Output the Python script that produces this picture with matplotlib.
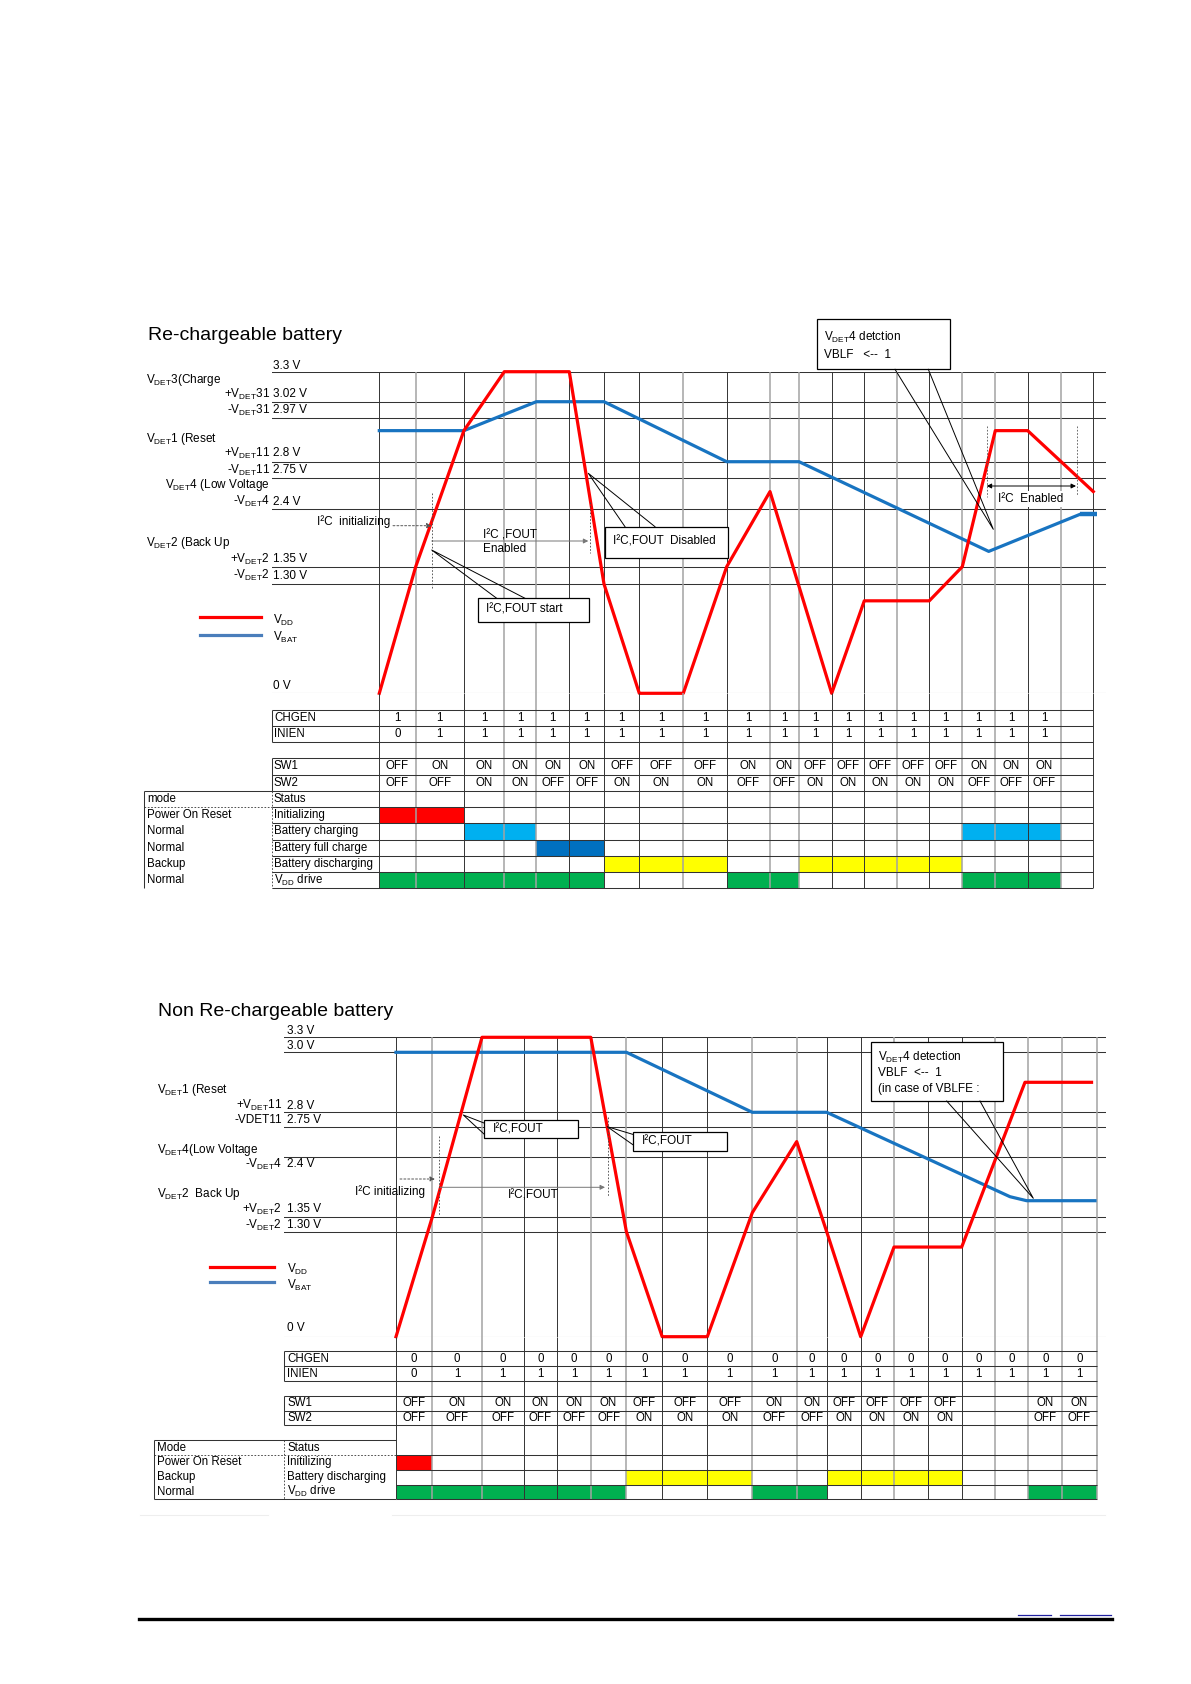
import numpy as np
import matplotlib
matplotlib.use("Agg")
import matplotlib.pyplot as plt
from matplotlib.lines import Line2D
from matplotlib.patches import Rectangle, FancyArrowPatch

plt.rcParams["font.family"] = ["Liberation Sans", "DejaVu Sans"]
plt.rcParams["mathtext.fontset"] = "custom"
plt.rcParams["mathtext.rm"] = "Liberation Sans"
plt.rcParams["mathtext.it"] = "Liberation Sans:italic"
plt.rcParams["mathtext.bf"] = "Liberation Sans:bold"

# ---------------- data: re-chargeable battery ----------------
# time is counted in table steps (column edges), voltages in volts
top_levels = [0, 1.30, 1.35, 2.4, 2.75, 2.8, 2.97, 3.02, 3.3]
top_vdd_step = [0, 1, 2, 3, 5, 6, 7, 8, 9, 10, 12, 13, 15, 16, 17, 18, 20]
top_vdd_v = [0, 1.35, 2.92, 3.3, 3.3, 1.30, 0, 0, 1.35, 2.6, 0, 1.1, 1.1, 1.35, 2.92, 2.92, 2.6]
top_vbat_step = [0, 2, 4, 6, 9, 11, 16.8, 19.6]
top_vbat_v = [2.92, 2.92, 3.02, 3.02, 2.8, 2.8, 1.63, 2.31]
top_vbat_end_step = [19.6, 20.1]
top_vbat_end_v = [2.31, 2.31]

top_chgen = ["1"] * 19
top_inien = ["0"] + ["1"] * 18
top_sw1 = ["OFF", "ON", "ON", "ON", "ON", "ON", "OFF", "OFF", "OFF", "ON",
           "ON", "OFF", "OFF", "OFF", "OFF", "OFF", "ON", "ON", "ON"]
top_sw2 = ["OFF", "OFF", "ON", "ON", "OFF", "OFF", "ON", "ON", "ON", "OFF",
           "OFF", "ON", "ON", "ON", "ON", "ON", "OFF", "OFF", "OFF"]
top_modes = ["Power On Reset", "Normal", "Normal", "Backup", "Normal"]
top_status = ["Initializing", "Battery charging", "Battery full charge",
              "Battery discharging", r"V$_{\rm DD}$ drive"]
top_init_cols = [0, 1]
top_charge_cols = [2, 3, 16, 17, 18]
top_full_cols = [4, 5]
top_dis_cols = [6, 7, 8, 11, 12, 13, 14, 15]
top_vdd_cols = [0, 1, 2, 3, 4, 5, 9, 10, 16, 17, 18]

# ---------------- data: non re-chargeable battery ----------------
bot_levels = [0, 1.30, 1.35, 2.4, 2.75, 2.8, 3.0, 3.3]
bot_vdd_step = [0, 1, 2, 5, 6, 7, 8, 9, 10, 11, 12, 13, 15, 16.9, 18.85]
bot_vdd_v = [0, 1.35, 3.3, 3.3, 1.30, 0, 0, 1.42, 2.58, 1.30, 0, 1.11, 1.11, 2.9, 2.9]
bot_vbat_step = [0, 6, 9, 11, 16.45, 16.95, 18.95]
bot_vbat_v = [3.0, 3.0, 2.8, 2.8, 1.70, 1.63, 1.63]

bot_chgen = ["0"] * 19
bot_inien = ["0"] + ["1"] * 18
bot_sw1 = ["OFF", "ON", "ON", "ON", "ON", "ON", "OFF", "OFF", "OFF", "ON",
           "ON", "OFF", "OFF", "OFF", "OFF", "", "", "ON", "ON"]
bot_sw2 = ["OFF", "OFF", "OFF", "OFF", "OFF", "OFF", "ON", "ON", "ON", "OFF",
           "OFF", "ON", "ON", "ON", "ON", "", "", "OFF", "OFF"]
bot_modes = ["Power On Reset", "Backup", "Normal"]
bot_status = ["Initilizing", "Battery discharging", r"V$_{\rm DD}$ drive"]
bot_init_cols = [0]
bot_dis_cols = [6, 7, 8, 11, 12, 13, 14]
bot_vdd_cols = [0, 1, 2, 3, 4, 5, 9, 10, 17, 18]

# ---------------- layout (pixels of the page) ----------------
W, H = 1191, 1684
top_col_px = [379.3, 415.7, 463.9, 504.3, 536.4, 569.3, 604, 639.3, 683.3, 726.7, 770,
              799, 831.7, 864.3, 896.7, 929.3, 962.3, 995.3, 1027.7, 1060.7, 1093.3]
top_level_px = [693.3, 584, 566.7, 509.3, 478.3, 461.7, 417.7, 401.7, 371.7]
top_vgray = [0, 1, 0, 1, 1, 0, 0, 0, 1, 0, 1, 1, 0, 0, 1, 0, 1, 1, 0, 1, 0]
bot_col_px = [396, 432.4, 482, 523.5, 557.4, 590.8, 626.4, 662.2, 707.3, 752.3, 796.7,
              826.7, 860.7, 894, 928.3, 961.7, 995, 1028.3, 1062.3, 1096.7]
bot_level_px = [1336.7, 1231.7, 1216.7, 1156.7, 1127.3, 1112.3, 1052.3, 1037.3]
bot_vgray = [0, 1, 1, 0, 0, 1, 1, 0, 0, 1, 1, 0, 0, 1, 0, 0, 1, 1, 1, 1]

RED, BLUE, BLUE_LEG = "#ff0000", "#1874c1", "#4a7ebb"
C_INIT, C_CHG, C_FULL, C_DIS, C_VDD = "#ff0000", "#00b0f0", "#0070c0", "#ffff00", "#00b050"
DARK, GRAY = "#333333", "#a3a3a3"
FS = 8.5
TFS = 8.3
DOT = (0, (2, 2))

fig = plt.figure(figsize=(W / 100, H / 100), dpi=100)


def fx(x):
    return x / W


def fy(y):
    return 1 - y / H


def ftext(x, y, s, **kw):
    kw.setdefault("fontsize", FS)
    kw.setdefault("va", "center")
    fig.text(fx(x), fy(y), s, **kw)


def fline(xs, ys, **kw):
    kw.setdefault("color", "black")
    kw.setdefault("lw", 0.7)
    fig.add_artist(Line2D([fx(x) for x in xs], [fy(y) for y in ys], **kw))


def farrow(x0, y0, x1, y1, both=False, ls="-", color="black", lw=0.7):
    fig.add_artist(FancyArrowPatch((fx(x0), fy(y0)), (fx(x1), fy(y1)),
                                   transform=fig.transFigure,
                                   arrowstyle="<|-|>" if both else "-|>",
                                   mutation_scale=7, shrinkA=0, shrinkB=0,
                                   lw=lw, color=color, linestyle=ls))


def callout(x0, y0, x1, y1, apex, base, lines, tx, ty0, dy=0):
    fline([base[0][0], apex[0], base[1][0]], [base[0][1], apex[1], base[1][1]])
    fig.add_artist(Rectangle((fx(x0), fy(y1)), (x1 - x0) / W, (y1 - y0) / H,
                             transform=fig.transFigure, fc="white", ec="black", lw=0.9))
    for k, s in enumerate(lines):
        ftext(tx, ty0 + k * dy, s)


def interp_scale(k_in, k_out, slope):
    k_in = np.asarray(k_in, float)
    k_out = np.asarray(k_out, float)
    kin = np.r_[k_in[0] - 1e4, k_in, k_in[-1] + 1e4]
    kout = np.r_[k_out[0] - 1e4 * slope, k_out, k_out[-1] + 1e4 * slope]
    return (lambda v: np.interp(v, kin, kout)), (lambda p: np.interp(p, kout, kin))


def add_ax(x0, y0, x1, y1):
    ax = fig.add_axes([fx(x0), fy(y1), (x1 - x0) / W, (y1 - y0) / H])
    ax.set_axis_off()
    return ax


def wave(col_px, level_px, levels, vgray, x0, x1, vdd, vbat):
    xf, xi = interp_scale(np.arange(len(col_px)), col_px, 34)
    yf, yi = interp_scale(levels, -np.asarray(level_px), 100)
    ax = add_ax(x0, level_px[-1], x1, level_px[0])
    ax.set_xscale("function", functions=(xf, xi))
    ax.set_yscale("function", functions=(yf, yi))
    for v in levels:
        ax.axhline(v, color=DARK, lw=0.75, zorder=1)
    ax.vlines(np.arange(len(col_px)), 0, levels[-1],
              colors=[GRAY if g else DARK for g in vgray],
              linewidths=[1.1 if g else 0.7 for g in vgray], zorder=1)
    ax.plot(vbat[0], vbat[1], color=BLUE, lw=2.3, zorder=3, clip_on=False)
    ax.plot(vdd[0], vdd[1], color=RED, lw=2.3, zorder=4, clip_on=False)
    ax.set_xlim(xi(x0), xi(x1))
    ax.set_ylim(0, levels[-1])
    return ax


def table_axes(col_px, x0, x1, y0, y1, n_rows):
    xf, xi = interp_scale(np.arange(len(col_px)), col_px, 34)
    tab = add_ax(x0, y0, x1, y1)
    tab.set_xscale("function", functions=(xf, xi))
    tab.set_xlim(xi(x0), xi(x1))
    tab.set_ylim(n_rows, 0)
    return tab, xi


def tline(tab, xs, ys, **kw):
    kw.setdefault("color", DARK)
    kw.setdefault("lw", 0.75)
    tab.plot(xs, ys, solid_capstyle="butt", clip_on=False, zorder=2, **kw)


def fill(tab, cols, row, color):
    tab.bar(cols, 1, bottom=row, width=1, align="edge", color=color, lw=0, zorder=1)


def row_text(tab, values, row):
    for i, s in enumerate(values):
        if s:
            tab.text(i + 0.5, row + 0.5, s, ha="center", va="center", fontsize=TFS)


def left_text(tab, x, row, s):
    tab.text(x, row + 0.5, s, ha="left", va="center", fontsize=TFS)


# =============== Re-chargeable battery ===============
ftext(148, 335, "Re-chargeable battery", fontsize=14)
ax = wave(top_col_px, top_level_px, top_levels, top_vgray, 272, 1106,
          (top_vdd_step, top_vdd_v), (top_vbat_step, top_vbat_v))
ax.plot(top_vbat_end_step, top_vbat_end_v, color=BLUE, lw=3.2, zorder=3,
        solid_capstyle="butt", clip_on=False)

ftext(273, 366, "3.3 V")
ftext(146, 380, r"V$_{\rm DET}$3(Charge")
for name, val, y in [(r"+V$_{\rm DET}$31", "3.02 V", 394.3), (r"-V$_{\rm DET}$31", "2.97 V", 410),
                     (r"+V$_{\rm DET}$11", "2.8 V", 453.3), (r"-V$_{\rm DET}$11", "2.75 V", 470),
                     (r"-V$_{\rm DET}$4", "2.4 V", 501.7), (r"+V$_{\rm DET}$2", "1.35 V", 559),
                     (r"-V$_{\rm DET}$2", "1.30 V", 575.7)]:
    ftext(270, y, name, ha="right")
    ftext(273, y, val)
ftext(146, 439, r"V$_{\rm DET}$1 (Reset")
ftext(270, 485, r"V$_{\rm DET}$4 (Low Voltage", ha="right")
ftext(146, 543.3, r"V$_{\rm DET}$2 (Back Up")
ftext(273, 685.7, "0 V")
fline([200, 260.7], [617, 617], color=RED, lw=2.3)
fline([200, 260.7], [635, 635], color=BLUE_LEG, lw=2.3)
ftext(273, 620, r"V$_{\rm DD}$")
ftext(273, 637, r"V$_{\rm BAT}$")

# annotations
ftext(316.7, 522, "I²C  initializing")
farrow(393, 525.7, 431.7, 525.7, ls=DOT, color="#555555")
fline([431.7, 431.7], [492.7, 588.3], ls=DOT, lw=0.6, color="#444444")
farrow(431.7, 541, 588.3, 541, color="#777777")
ftext(483, 535.7, "I²C ,FOUT")
ftext(483, 549.3, "Enabled")
fline([590, 590], [501.7, 552.7], ls=DOT, lw=0.6, color="#444444")
callout(478.3, 598.3, 589.3, 621.7, (431.7, 550), [(496.7, 598.3), (525, 598.3)],
        ["I²C,FOUT start"], 486, 610)
callout(605, 526.7, 728.3, 558, (588.3, 473.3), [(625, 526.7), (655, 526.7)],
        ["I²C,FOUT  Disabled"], 613, 541.5)
callout(816.7, 319.3, 950, 369.3, (993.3, 529.3), [(895, 369.3), (928.3, 369.3)],
        [r"V$_{\rm DET}$4 detction", "VBLF   <--  1"], 824, 337.7, 17.3)
farrow(986.7, 486, 1076, 486, both=True)
fline([986.7, 986.7], [426, 497], ls=DOT, lw=0.6, color="#555555")
fline([1076.7, 1076.7], [426, 496], ls=DOT, lw=0.6, color="#555555")
ftext(998.3, 499.3, "I²C  Enabled", bbox=dict(fc="white", ec="none", pad=1.5))

# table
tab, xi = table_axes(top_col_px, 144, 1106, 693.3, 888.3, 12)
n = len(top_col_px) - 1
fill(tab, top_init_cols, 7, C_INIT)
fill(tab, top_charge_cols, 8, C_CHG)
fill(tab, top_full_cols, 9, C_FULL)
fill(tab, top_dis_cols, 10, C_DIS)
fill(tab, top_vdd_cols, 11, C_VDD)
tab.vlines(np.arange(n + 1), 0, 12, colors=[GRAY if g else DARK for g in top_vgray],
           linewidths=[1.1 if g else 0.7 for g in top_vgray], zorder=2)
for r in range(1, 13):
    tline(tab, [xi(272), n], [r, r])
tline(tab, [xi(272)] * 2, [1, 3])
tline(tab, [xi(272)] * 2, [4, 6])
tline(tab, [xi(272)] * 2, [6, 12], ls=DOT, lw=0.6)
tline(tab, [xi(144), xi(272)], [6, 6])
tline(tab, [xi(144), xi(272)], [7, 7], ls=DOT, lw=0.6)
tline(tab, [xi(144)] * 2, [6, 12])
for name, row in [("CHGEN", 1), ("INIEN", 2), ("SW1", 4), ("SW2", 5), ("Status", 6)]:
    left_text(tab, xi(274), row, name)
left_text(tab, xi(147), 6, "mode")
for k, (m, s) in enumerate(zip(top_modes, top_status)):
    left_text(tab, xi(147), 7 + k, m)
    left_text(tab, xi(274), 7 + k, s)
row_text(tab, top_chgen, 1)
row_text(tab, top_inien, 2)
row_text(tab, top_sw1, 4)
row_text(tab, top_sw2, 5)

# =============== Non re-chargeable battery ===============
ftext(158.3, 1011.7, "Non Re-chargeable battery", fontsize=14)
wave(bot_col_px, bot_level_px, bot_levels, bot_vgray, 284, 1106,
     (bot_vdd_step, bot_vdd_v), (bot_vbat_step, bot_vbat_v))

ftext(286.7, 1030.7, "3.3 V")
ftext(286.7, 1045.7, "3.0 V")
ftext(156.7, 1090, r"V$_{\rm DET}$1 (Reset")
for name, val, y in [(r"+V$_{\rm DET}$11", "2.8 V", 1105.7), ("-VDET11", "2.75 V", 1120),
                     (r"-V$_{\rm DET}$4", "2.4 V", 1164), (r"+V$_{\rm DET}$2", "1.35 V", 1209),
                     (r"-V$_{\rm DET}$2", "1.30 V", 1225)]:
    ftext(282, y, name, ha="right")
    ftext(286.7, y, val)
ftext(156.7, 1150, r"V$_{\rm DET}$4(Low Voltage")
ftext(156.7, 1194.3, r"V$_{\rm DET}$2  Back Up")
ftext(286.7, 1328.3, "0 V")
fline([210, 274], [1266.7, 1266.7], color=RED, lw=2.3)
fline([210, 274], [1282.3, 1282.3], color=BLUE_LEG, lw=2.3)
ftext(286.7, 1269.3, r"V$_{\rm DD}$")
ftext(286.7, 1285, r"V$_{\rm BAT}$")

callout(484, 1120, 577.7, 1138.3, (463.3, 1115), [(484, 1123), (484, 1134)],
        ["I²C,FOUT"], 493.3, 1129.5)
callout(633.3, 1131.7, 727.3, 1150.7, (607.3, 1126.7), [(633.3, 1134.5), (633.3, 1145)],
        ["I²C,FOUT"], 641.7, 1141.5)
ftext(355, 1191.7, "I²C initializing")
farrow(400, 1179, 435, 1179, ls=DOT, color="#555555")
fline([439.3, 439.3], [1135.7, 1216], ls=DOT, lw=0.6, color="#444444")
farrow(440, 1187.3, 605, 1187.3, color="#777777")
ftext(508, 1196, "I²C,FOUT")
fline([608.3, 608.3], [1116.7, 1196.7], ls=DOT, lw=0.6, color="#444444")
callout(870.7, 1041.7, 1003.3, 1101, (1033.3, 1198.3), [(946.7, 1101), (980, 1101)],
        [r"V$_{\rm DET}$4 detection", "VBLF  <--  1", "(in case of VBLFE :"],
        878.3, 1057.7, 15.8)

tab, xi = table_axes(bot_col_px, 154, 1106, 1336.7, 1499.3, 11)
n = len(bot_col_px) - 1
fill(tab, bot_init_cols, 8, C_INIT)
fill(tab, bot_dis_cols, 9, C_DIS)
fill(tab, bot_vdd_cols, 10, C_VDD)
tab.vlines(np.arange(n + 1), 0, 11, colors=[GRAY if g else DARK for g in bot_vgray],
           linewidths=[1.1 if g else 0.7 for g in bot_vgray], zorder=2)
for r in [1, 2, 3, 4, 5, 6]:
    tline(tab, [xi(284.3), n], [r, r])
for r in [8, 9, 10, 11]:
    tline(tab, [0, n], [r, r])
tline(tab, [xi(284.3)] * 2, [1, 3])
tline(tab, [xi(284.3)] * 2, [4, 6])
tline(tab, [xi(154), 0], [7, 7])
tline(tab, [xi(154), 0], [8, 8], ls=DOT, lw=0.6)
tline(tab, [xi(154), 0], [11, 11])
tline(tab, [xi(154)] * 2, [7, 11])
tline(tab, [xi(284.3)] * 2, [7, 11], ls=DOT, lw=0.6)
for name, row in [("CHGEN", 1), ("INIEN", 2), ("SW1", 4), ("SW2", 5), ("Status", 7)]:
    left_text(tab, xi(287), row, name)
left_text(tab, xi(157), 7, "Mode")
for k, (m, s) in enumerate(zip(bot_modes, bot_status)):
    left_text(tab, xi(157), 8 + k, m)
    left_text(tab, xi(287), 8 + k, s)
row_text(tab, bot_chgen, 1)
row_text(tab, bot_inien, 2)
row_text(tab, bot_sw1, 4)
row_text(tab, bot_sw2, 5)

# faint rule under the second table
fline([140, 268], [1515, 1515], color="#eeeeee", lw=0.8)
fline([392, 1105], [1515, 1515], color="#eeeeee", lw=0.8)

# page footer
fline([138.7, 1112], [1618.5, 1618.5], lw=2.4)
fline([1018, 1051], [1615, 1615], color="#2020a0", lw=0.9)
fline([1060, 1111], [1615, 1615], color="#2020a0", lw=0.9)

fig.savefig("out.png", dpi=100)
